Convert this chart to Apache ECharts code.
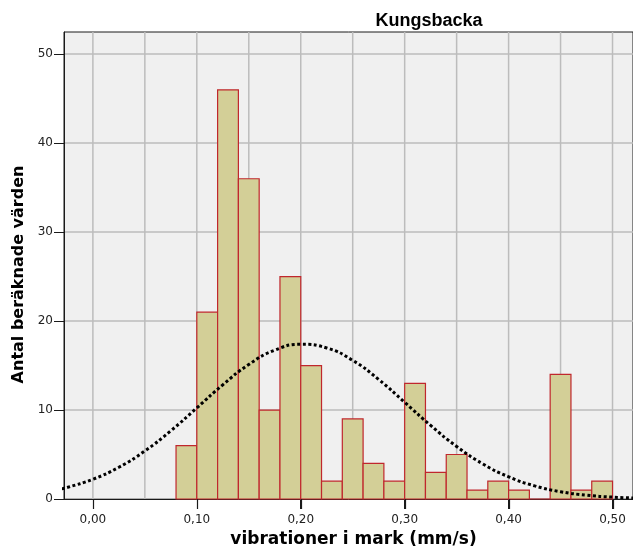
<!DOCTYPE html>
<html>
<head>
<meta charset="utf-8">
<script src="https://cdn.jsdelivr.net/npm/echarts@6/dist/echarts.min.js"></script>
<style>
  html, body { margin: 0; padding: 0; background: #ffffff; }
  #chart { width: 633px; height: 556px; }
</style>
</head>
<body>
<div id="chart"></div>
<script>
// Histogram of ground vibrations, bins of 0.02 mm/s
const binWidth = 0.02;
const binStarts = [0.08, 0.10, 0.12, 0.14, 0.16, 0.18, 0.20, 0.22, 0.24, 0.26, 0.28,
                   0.30, 0.32, 0.34, 0.36, 0.38, 0.40, 0.42, 0.44, 0.46, 0.48];
const counts    = [6, 21, 46, 36, 10, 25, 15, 2, 9, 4, 2,
                   13, 3, 5, 1, 2, 1, 0, 14, 1, 2];

// Fitted normal curve, sampled along the x axis
const curveX = [-0.03, -0.025, 0, 0.025, 0.05, 0.075, 0.10, 0.125, 0.15, 0.175, 0.20,
                0.225, 0.25, 0.275, 0.30, 0.325, 0.35, 0.375, 0.40, 0.425, 0.45,
                0.475, 0.50, 0.525];
const curveY = [1.15, 1.29, 2.22, 3.57, 5.40, 7.67, 10.24, 12.84, 15.12, 16.73, 17.39,
                16.98, 15.58, 13.43, 10.87, 8.27, 5.91, 3.96, 2.50, 1.48, 0.82,
                0.43, 0.21, 0.10];

// Axis ticks and labels
const xLabelValues = [0, 0.1, 0.2, 0.3, 0.4, 0.5];
const xGridValues = [0, 0.05, 0.1, 0.15, 0.2, 0.25, 0.3, 0.35, 0.4, 0.45, 0.5];
const yLabelValues = [0, 10, 20, 30, 40, 50];

const titleText = 'Kungsbacka';
const xName = 'vibrationer i mark (mm/s)';
const yName = 'Antal beräknade värden';

const X_MIN = -0.0278, X_MAX = 0.5197, Y_MAX = 52.5;

const barData = binStarts.map((s, i) => [s, s + binWidth, counts[i]]);
const curveData = curveX.map((x, i) => [x, curveY[i]]);

const gridColor = '#bcbcbc';
const axisColor = '#1a1a1a';
const labelFont = 'DejaVu Sans';
const TICK_LEN = 10;

const chart = echarts.init(document.getElementById('chart'), null, { renderer: 'canvas' });

chart.setOption({
  animation: false,
  backgroundColor: '#ffffff',
  title: {
    text: titleText,
    left: 424,
    top: 7,
    textAlign: 'center',
    textStyle: { fontFamily: 'Liberation Sans', fontWeight: 'bold', fontSize: 18, color: '#000' }
  },
  grid: {
    left: 64, top: 32, right: -2, bottom: 57,
    show: true,
    backgroundColor: '#f0f0f0',
    borderColor: axisColor,
    borderWidth: 1
  },
  xAxis: {
    type: 'value',
    min: X_MIN,
    max: X_MAX,
    name: xName,
    nameLocation: 'middle',
    nameGap: 29,
    nameTextStyle: { fontFamily: labelFont, fontWeight: 'bold', fontSize: 17, color: '#000', padding: [0, 0, 0, 10] },
    axisLine: { show: true, onZero: false, lineStyle: { color: axisColor, width: 1 } },
    axisTick: { show: true, inside: false, length: TICK_LEN, customValues: xLabelValues, lineStyle: { color: axisColor, width: 1 } },
    axisLabel: {
      customValues: xLabelValues,
      margin: 15,
      fontFamily: labelFont,
      fontSize: 12,
      color: '#222',
      formatter: v => v.toFixed(2).replace('.', ',')
    },
    splitLine: { show: false }
  },
  yAxis: {
    type: 'value',
    min: 0,
    max: Y_MAX,
    interval: 5,
    name: yName,
    nameLocation: 'middle',
    nameGap: 27,
    nameTextStyle: { fontFamily: labelFont, fontWeight: 'bold', fontSize: 16, color: '#000', padding: [0, 18, 0, 0] },
    axisLine: { show: true, onZero: false, lineStyle: { color: axisColor, width: 1 } },
    axisTick: { show: true, inside: false, length: TICK_LEN, customValues: yLabelValues, lineStyle: { color: axisColor, width: 1 } },
    axisLabel: {
      customValues: yLabelValues,
      margin: 11,
      fontFamily: labelFont,
      fontSize: 12,
      color: '#222'
    },
    splitLine: { show: true, lineStyle: { color: gridColor, width: 1.5 } }
  },
  series: [
    {
      // vertical grid lines every 0.05, kept behind the bars
      type: 'custom',
      z: 1,
      silent: true,
      data: xGridValues.map(v => [v]),
      encode: { x: 0 },
      renderItem: (params, api) => {
        const p0 = api.coord([api.value(0), 0]);
        const p1 = api.coord([api.value(0), Y_MAX]);
        return {
          type: 'line',
          shape: { x1: p0[0], y1: p0[1], x2: p1[0], y2: p1[1] },
          style: { stroke: gridColor, lineWidth: 1.5 }
        };
      }
    },
    {
      type: 'custom',
      z: 2,
      data: barData,
      encode: { x: [0, 1], y: 2 },
      renderItem: (params, api) => {
        const topLeft = api.coord([api.value(0), api.value(2)]);
        const bottomRight = api.coord([api.value(1), 0]);
        return {
          type: 'rect',
          shape: {
            x: topLeft[0],
            y: topLeft[1],
            width: bottomRight[0] - topLeft[0],
            height: bottomRight[1] - topLeft[1]
          },
          style: { fill: '#d3cf97', stroke: '#c0272d', lineWidth: 1.2 }
        };
      }
    },
    {
      type: 'line',
      z: 3,
      data: curveData,
      smooth: true,
      showSymbol: false,
      symbol: 'none',
      clip: true,
      lineStyle: { color: '#000', width: 3, type: [3, 2.5] }
    }
  ]
});

// Outward tick marks under the labelled x values, placed through the x scale
chart.setOption({
  graphic: xLabelValues.map(v => {
    const p = chart.convertToPixel({ gridIndex: 0 }, [v, 0]);
    const x = Math.round(p[0]) + 0.5;
    return {
      type: 'line',
      silent: true,
      z: 100,
      shape: { x1: x, y1: p[1], x2: x, y2: p[1] + TICK_LEN },
      style: { stroke: axisColor, lineWidth: 1.2 }
    };
  })
});
</script>
</body>
</html>
